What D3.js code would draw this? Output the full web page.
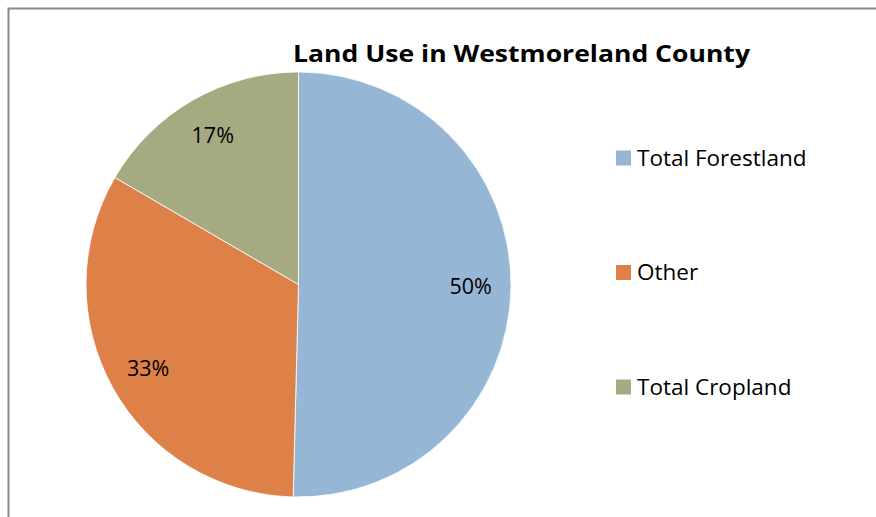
<!DOCTYPE html>
<html>
<head>
<meta charset="utf-8">
<style>
  html, body { margin: 0; padding: 0; background: #fff; }
  svg { display: block; }
</style>
</head>
<body>
<svg width="876" height="517"></svg>
<script src="https://d3js.org/d3.v7.min.js"></script>
<script>
// data
var categories = ['Total Forestland', 'Other', 'Total Cropland'];
var values = [50.4, 33.0, 16.6];
var colors = ['#95b6d5', '#de8148', '#a5aa80'];

var svgElem = d3.select('svg');

// chart frame (runs off the right and bottom edge)
svgElem.append('rect')
    .attr('x', 8.5)
    .attr('y', 8.5)
    .attr('width', 900)
    .attr('height', 560)
    .attr('fill', '#fff')
    .attr('stroke', '#898989')
    .attr('stroke-width', 2);

// title
svgElem.append('text')
    .attr('x', 293)
    .attr('y', 62)
    .attr('textLength', 457)
    .attr('lengthAdjust', 'spacingAndGlyphs')
    .style('font-family', '"Open Sans", Lato, sans-serif')
    .style('font-weight', 'bold')
    .style('font-size', '23px')
    .attr('fill', '#000')
    .text('Land Use in Westmoreland County');

// pie
var radius = 212.5;
var g = svgElem.append('g')
    .attr('transform', 'translate(298.5, 284.5)');

var total = d3.sum(values);
var data = categories.map(function (c, i) {
    return { name: c, value: values[i], color: colors[i] };
});

var pie = d3.pie()
    .sort(null)
    .value(function (d) { return d.value; });

var arc = d3.arc()
    .innerRadius(0)
    .outerRadius(radius);

var labelArc = d3.arc()
    .innerRadius(radius * 0.81)
    .outerRadius(radius * 0.81);

var arcs = pie(data);

g.selectAll('path')
    .data(arcs)
    .enter().append('path')
    .attr('d', arc)
    .attr('fill', function (d) { return d.data.color; })
    .attr('stroke', '#fff')
    .attr('stroke-width', 0.8);

var fmt = d3.format('.0%');
g.selectAll('text.lbl')
    .data(arcs)
    .enter().append('text')
    .attr('class', 'lbl')
    .attr('transform', function (d) {
        var c = labelArc.centroid(d);
        return 'translate(' + c[0] + ',' + c[1] + ')';
    })
    .attr('text-anchor', 'middle')
    .attr('dy', '0.35em')
    .style('font-family', '"Open Sans", Lato, sans-serif')
    .style('font-size', '21.5px')
    .attr('fill', '#000')
    .text(function (d) { return fmt(d.data.value / total); });

// legend
var legendY = d3.scalePoint()
    .domain(categories)
    .range([158, 387]);

var legend = svgElem.selectAll('g.legend')
    .data(data)
    .enter().append('g')
    .attr('class', 'legend')
    .attr('transform', function (d) { return 'translate(616,' + legendY(d.name) + ')'; });

legend.append('rect')
    .attr('x', 0)
    .attr('y', -7.5)
    .attr('width', 15)
    .attr('height', 15)
    .attr('fill', function (d) { return d.color; });

legend.append('text')
    .attr('x', 21)
    .attr('y', 7.5)
    .style('font-family', '"Open Sans", Lato, sans-serif')
    .style('font-size', '22.5px')
    .attr('fill', '#000')
    .text(function (d) { return d.name; });
</script>
</body>
</html>
